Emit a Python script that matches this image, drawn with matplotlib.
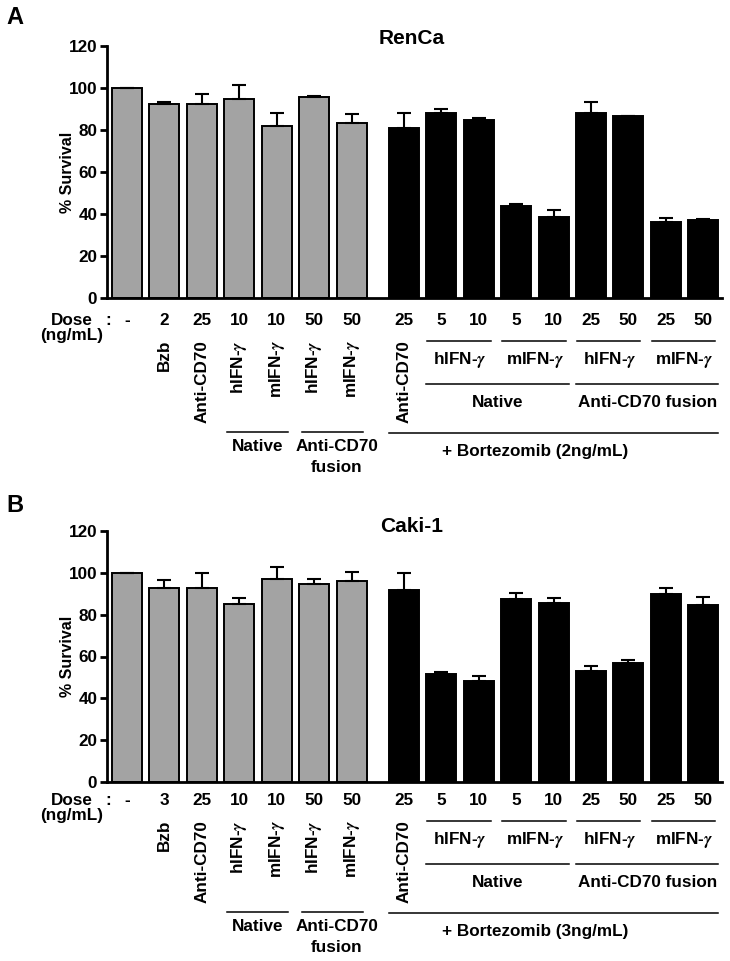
import matplotlib
matplotlib.use('Agg')
import matplotlib.pyplot as plt
import numpy as np
from matplotlib.transforms import blended_transform_factory

plt.rcParams['font.family'] = ['Liberation Sans', 'DejaVu Sans']
plt.rcParams['font.weight'] = 'bold'
plt.rcParams['mathtext.fontset'] = 'stix'

W, H = 730, 961

# ---------------- data ----------------
panel_titles = ['RenCa', 'Caki-1']
panel_letters = ['A', 'B']
bortezomib_labels = ['+ Bortezomib (2ng/mL)', '+ Bortezomib (3ng/mL)']

gray_labels = ['', 'Bzb', 'Anti-CD70', 'hIFN-$\\gamma$', 'mIFN-$\\gamma$',
               'hIFN-$\\gamma$', 'mIFN-$\\gamma$']
black_first_label = 'Anti-CD70'
gray_doses_A = ['-', '2', '25', '10', '10', '50', '50']
gray_doses_B = ['-', '3', '25', '10', '10', '50', '50']
black_doses = ['25', '5', '10', '5', '10', '25', '50', '25', '50']
cytokine_pairs = ['hIFN-$\\gamma$', 'mIFN-$\\gamma$', 'hIFN-$\\gamma$', 'mIFN-$\\gamma$']
format_groups = ['Native', 'Anti-CD70 fusion']

gray_vals_A = [100, 92.5, 92.2, 94.6, 81.9, 95.6, 83.2]
gray_err_A = [0, 0.8, 5.0, 6.7, 6.0, 0.4, 4.6]
black_vals_A = [81.1, 88.0, 84.6, 44.0, 38.6, 88.1, 86.5, 36.3, 37.3]
black_err_A = [7.0, 2.0, 1.2, 0.9, 3.3, 5.0, 0.4, 1.9, 0.3]

gray_vals_B = [100, 92.8, 92.8, 84.9, 97.2, 94.7, 96.1]
gray_err_B = [0, 3.9, 7.0, 3.2, 5.8, 2.5, 4.1]
black_vals_B = [91.8, 51.5, 48.3, 87.5, 85.6, 53.1, 57.0, 89.9, 84.6]
black_err_B = [8.3, 1.2, 2.5, 2.9, 2.5, 2.2, 1.3, 2.9, 3.8]

panels = [
    dict(gray=gray_vals_A, gerr=gray_err_A, black=black_vals_A, berr=black_err_A,
         gdose=gray_doses_A),
    dict(gray=gray_vals_B, gerr=gray_err_B, black=black_vals_B, berr=black_err_B,
         gdose=gray_doses_B),
]

# ---------------- layout (pixels) ----------------
ax_left, ax_right = 107, 722
ax_tops = [46, 531]
ax_bottoms = [298, 782]
dose_base = [325, 805]
title_y = [39, 526]
letter_y = [18, 506]

def fx(px):
    return px / W

def fy(py):
    return 1 - py / H

fig = plt.figure(figsize=(W / 100, H / 100), dpi=100)

xg = np.arange(7)
xb = 7.4 + np.arange(9)
FS = 12.3

for i, p in enumerate(panels):
    top, bot = ax_tops[i], ax_bottoms[i]
    ax = fig.add_axes([fx(ax_left), fy(bot), (ax_right - ax_left) / W, (bot - top) / H])
    ax.bar(xg, p['gray'], width=0.8, color='#a3a3a3', edgecolor='black', linewidth=1.4, zorder=2)
    ax.bar(xb, p['black'], width=0.8, color='black', edgecolor='black', linewidth=1.4, zorder=2)
    ax.errorbar(xg, p['gray'], yerr=[np.zeros(7), p['gerr']], fmt='none', ecolor='black',
                elinewidth=1.5, capsize=5, capthick=1.5, zorder=3)
    ax.errorbar(xb, p['black'], yerr=[np.zeros(9), p['berr']], fmt='none', ecolor='black',
                elinewidth=1.5, capsize=5, capthick=1.5, zorder=3)
    ax.set_xlim(-0.535, 15.9)
    ax.set_ylim(0, 120)
    ax.set_yticks(np.arange(0, 121, 20))
    ax.set_xticks([])
    for s in ['top', 'right']:
        ax.spines[s].set_visible(False)
    for s in ['left', 'bottom']:
        ax.spines[s].set_linewidth(2)
    ax.tick_params(axis='y', length=5, width=2, labelsize=FS, pad=2)
    for t in ax.get_yticklabels():
        t.set_fontweight('bold')
    ax.set_ylabel('% Survival', fontsize=11.5, fontweight='bold')
    ax.yaxis.set_label_coords(-0.052, 0.5)

    fig.text(fx(412), fy(title_y[i]), panel_titles[i], ha='center', va='center',
             fontsize=15, fontweight='bold')
    fig.text(fx(15), fy(letter_y[i]), panel_letters[i], ha='center', va='center',
             fontsize=17, fontweight='bold')

    tr = blended_transform_factory(ax.transData, fig.transFigure)
    db = dose_base[i]

    # dose row
    fig.text(fx(72), fy(db), 'Dose', ha='center', va='baseline', fontsize=FS, fontweight='bold')
    fig.text(fx(108), fy(db), ':', ha='center', va='baseline', fontsize=FS, fontweight='bold')
    fig.text(fx(72), fy(db + 15), '(ng/mL)', ha='center', va='baseline', fontsize=FS,
             fontweight='bold')
    for x, d in zip(xg, p['gdose']):
        ax.text(x, fy(db), d, transform=tr, ha='center', va='baseline', fontsize=FS,
                fontweight='bold')
    for x, d in zip(xb, black_doses):
        ax.text(x, fy(db), d, transform=tr, ha='center', va='baseline', fontsize=FS,
                fontweight='bold')

    # rotated labels
    for x, lab in zip(xg[1:], gray_labels[1:]):
        ax.text(x, fy(db + 15), lab, transform=tr, ha='center', va='top', rotation=90,
                fontsize=FS, fontweight='bold')
    ax.text(xb[0], fy(db + 15), black_first_label, transform=tr, ha='center', va='top',
            rotation=90, fontsize=FS, fontweight='bold')

    def hline(x0, x1, ypix):
        ax.plot([x0, x1], [fy(ypix), fy(ypix)], transform=tr, color='black', lw=1.1,
                clip_on=False)

    # left groups (single agents)
    for a, b in [(3, 4), (5, 6)]:
        hline(xg[a] - 0.33, xg[b] + 0.3, db + 107)
    ax.text((xg[3] + xg[4]) / 2, fy(db + 126), 'Native', transform=tr, ha='center',
            va='baseline', fontsize=FS, fontweight='bold')
    ax.text((xg[5] + xg[6]) / 2 + 0.1, fy(db + 126), 'Anti-CD70', transform=tr, ha='center',
            va='baseline', fontsize=FS, fontweight='bold')
    ax.text((xg[5] + xg[6]) / 2 + 0.1, fy(db + 147), 'fusion', transform=tr, ha='center',
            va='baseline', fontsize=FS, fontweight='bold')

    # right groups (combination)
    for k in range(4):
        a, b = 1 + 2 * k, 2 + 2 * k
        hline(xb[a] - 0.38, xb[b] + 0.32, db + 16)
        ax.text((xb[a] + xb[b]) / 2, fy(db + 39), cytokine_pairs[k], transform=tr,
                ha='center', va='baseline', fontsize=FS, fontweight='bold')
    for k in range(2):
        a, b = 1 + 4 * k, 4 + 4 * k
        hline(xb[a] - 0.4, xb[b] + 0.4, db + 59)
        ax.text((xb[a] + xb[b]) / 2, fy(db + 82), format_groups[k], transform=tr,
                ha='center', va='baseline', fontsize=FS, fontweight='bold')
    hline(xb[0] - 0.4, xb[-1] + 0.4, db + 108)
    ax.text(10.9, fy(db + 131), bortezomib_labels[i], transform=tr, ha='center',
            va='baseline', fontsize=FS, fontweight='bold')

fig.savefig('out.png', dpi=100, facecolor='white')
